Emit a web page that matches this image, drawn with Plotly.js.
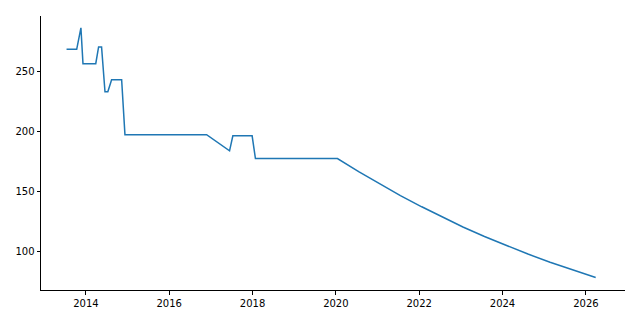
<!DOCTYPE html>
<html>
<head>
<meta charset="utf-8">
<script src="https://cdn.plot.ly/plotly-3.0.1.min.js"></script>
<style>html,body{margin:0;padding:0;background:#fff;}#chart{width:640px;height:320px;}</style>
</head>
<body>
<div id="chart"></div>
<script>
const dates = [
  '2013-07-15','2013-10-12','2013-11-18','2013-12-06','2014-03-28','2014-04-22',
  '2014-05-18','2014-06-17','2014-07-12','2014-08-14','2014-11-10','2014-12-09',
  '2016-11-24','2017-06-13','2017-07-12','2017-12-28','2018-01-26','2020-01-15',
  '2020-07-19','2021-01-19','2021-07-20','2022-01-23','2022-07-20','2023-01-19',
  '2023-07-27','2024-01-30','2024-08-11','2025-02-21','2025-09-09','2026-03-28'
];
const values = [
  269, 269, 287, 257, 257, 271,
  271, 233.5, 233.5, 243.5, 243.5, 197.5,
  197.5, 184, 196.5, 196.5, 177.5, 177.5,
  166.5, 156.3, 146.5, 137.1, 128.5, 120.2,
  112.2, 104.7, 97.5, 90.6, 83.9, 77.8
];
const yTicks = [100, 150, 200, 250];

Plotly.newPlot('chart', [{
  x: dates, y: values, type: 'scatter', mode: 'lines',
  line: {color: '#1f77b4', width: 1.5}
}], {
  width: 640, height: 320,
  margin: {l: 41, r: 15, t: 16, b: 30},
  paper_bgcolor: '#fff', plot_bgcolor: '#fff',
  showlegend: false,
  font: {family: 'DejaVu Sans', size: 10, color: '#000'},
  xaxis: {
    type: 'date', range: ['2012-12-03', '2026-12-10'],
    tickmode: 'array',
    tickvals: ['2014-01-01','2016-01-01','2018-01-01','2020-01-01','2022-01-01','2024-01-01','2026-01-01'],
    ticktext: ['2014','2016','2018','2020','2022','2024','2026'],
    showgrid: false, zeroline: false, showline: true, linecolor: '#000', linewidth: 1,
    ticks: 'outside', ticklen: 3.5, tickcolor: '#000', tickwidth: 1
  },
  yaxis: {
    range: [67.4, 296.9], tickvals: yTicks, ticktext: yTicks.map(String),
    showgrid: false, zeroline: false, showline: true, linecolor: '#000', linewidth: 1,
    ticks: 'outside', ticklen: 3.5, tickcolor: '#000', tickwidth: 1
  }
}, {displayModeBar: false, staticPlot: true});
</script>
</body>
</html>
